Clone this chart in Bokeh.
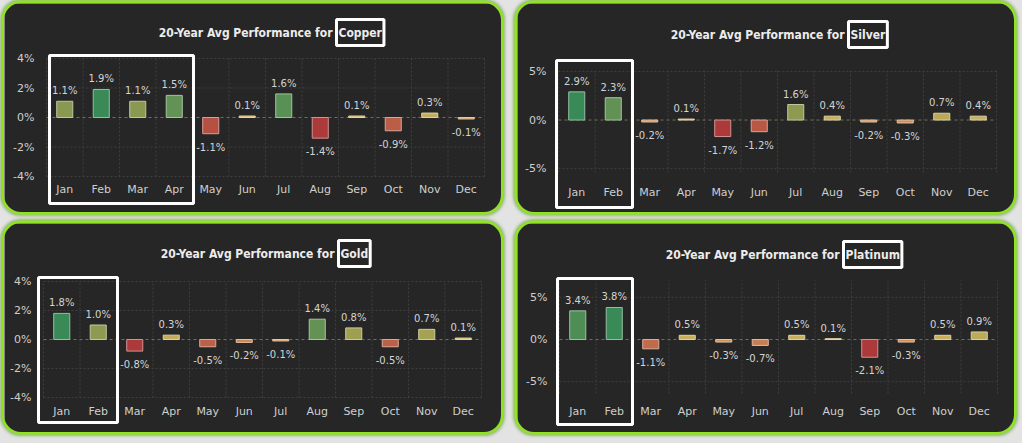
from bokeh.plotting import figure
from bokeh.layouts import column, row
from bokeh.models import (Range1d, FixedTicker, PrintfTickFormatter, Label, BoxAnnotation,
                          ColumnDataSource, GlobalInlineStyleSheet)
from bokeh.core.properties import value
from bokeh.embed import file_html
from bokeh.resources import INLINE

# ---------------- data ----------------
months = ["Jan", "Feb", "Mar", "Apr", "May", "Jun", "Jul", "Aug", "Sep", "Oct", "Nov", "Dec"]
copper = [1.1, 1.9, 1.1, 1.5, -1.1, 0.1, 1.6, -1.4, 0.1, -0.9, 0.3, -0.1]
silver = [2.9, 2.3, -0.2, 0.1, -1.7, -1.2, 1.6, 0.4, -0.2, -0.3, 0.7, 0.4]
gold = [1.8, 1.0, -0.8, 0.3, -0.5, -0.2, -0.1, 1.4, 0.8, -0.5, 0.7, 0.1]
platinum = [3.4, 3.8, -1.1, 0.5, -0.3, -0.7, 0.5, 0.1, -2.1, -0.3, 0.5, 0.9]
metals = ["Copper", "Silver", "Gold", "Platinum"]
title_prefix = "20-Year Avg Performance for"
y_ticks = {"Copper": [-4, -2, 0, 2, 4], "Silver": [-5, 0, 5], "Gold": [-4, -2, 0, 2, 4], "Platinum": [-5, 0, 5]}

# ---------------- styles ----------------
FONT = "DejaVu Sans"
TITLE_FONT = "DejaVu Sans Condensed, Open Sans"
BG = "#262626"
PAGE = "#e3e3e3"
GRID = "#3e3e3e"
W, H = 497, 209
FRAME_W = 438

# pixel layout of each panel (relative to the panel's top-left corner)
spec = {
    "Copper":   dict(ylim=(-4, 4), left=42, top=55, bottom=173, stand=0, title_px=29, word_px=329,
                     box=(45, 189, 52, 200)),
    "Silver":   dict(ylim=(-5.4, 5.1), left=41, top=67, bottom=169, stand=7, title_px=31, word_px=328,
                     box=(39, 115, 57, 204)),
    "Gold":     dict(ylim=(-4, 4), left=39, top=58, bottom=174, stand=1, title_px=30, word_px=331,
                     box=(34, 113, 54, 199)),
    "Platinum": dict(ylim=(-6.4, 7.0), left=42, top=57, bottom=170, stand=5, title_px=31, word_px=323,
                     box=(40, 115, 55, 201)),
}

POS = [(0.0, (216, 182, 98)), (0.5, (152, 156, 80)), (1.0, (58, 138, 88))]
NEG = [(0.0, (214, 160, 94)), (1.0, (172, 58, 58))]


def interp(stops, t):
    t = max(0.0, min(1.0, t))
    for (t0, c0), (t1, c1) in zip(stops[:-1], stops[1:]):
        if t <= t1:
            f = (t - t0) / (t1 - t0) if t1 > t0 else 0
            return tuple(int(round(a + (b - a) * f)) for a, b in zip(c0, c1))
    return stops[-1][1]


def hexc(c):
    return "#%02x%02x%02x" % c


def lighten(c, f=0.45):
    return tuple(int(round(a + (255 - a) * f)) for a in c)


def make_panel(name, vals):
    s = spec[name]
    ymin, ymax = s["ylim"]
    ppu = (s["bottom"] - s["top"]) / (ymax - ymin)
    ppx = FRAME_W / 12.0

    def dx(px):
        return (px - s["left"]) / ppx

    def dy(py):
        return ymax + (s["top"] - py) / ppu

    p = figure(width=W, height=H, title=None,
               x_range=Range1d(dx(0), dx(W)), y_range=Range1d(dy(H), dy(0)),
               output_backend="svg", toolbar_location=None, min_border=0,
               background_fill_color=BG, border_fill_color=BG, outline_line_color=None)
    p.styles = {"border-radius": "17px", "overflow": "hidden",
                "box-shadow": "0 0 0 2.5px #8fe320, 0 0 3px 3.5px rgba(80,150,20,0.55)"}

    n = len(months)
    xs = [i + 0.5 for i in range(n)]

    # grid (inside the plotting band only)
    gx = list(range(n + 1))
    p.segment(x0=gx, y0=[ymin] * len(gx), x1=gx, y1=[ymax] * len(gx),
              line_color=GRID, line_dash="2 2", line_width=1)
    gy = [t for t in y_ticks[name] if t != 0]
    p.segment(x0=[0] * len(gy), y0=gy, x1=[n] * len(gy), y1=gy,
              line_color=GRID, line_dash="2 2", line_width=1)
    p.segment(x0=[0], y0=[0], x1=[n], y1=[0], line_color="#707058", line_dash="3 3", line_width=1)

    vmax = max(vals)
    vmin = min(vals)
    fills, edges = [], []
    for v in vals:
        c = interp(POS, v / vmax) if v >= 0 else interp(NEG, v / vmin)
        fills.append(hexc(c))
        edges.append(hexc(lighten(c)))
    src = ColumnDataSource(dict(x=xs, v=vals, fill=fills, edge=edges))
    p.vbar(x="x", top="v", bottom=0, width=0.44, fill_color="fill", line_color="edge",
           line_width=1, source=src)

    pos = ColumnDataSource(dict(x=[x for x, v in zip(xs, vals) if v >= 0],
                                y=[v for v in vals if v >= 0],
                                t=["%.1f%%" % v for v in vals if v >= 0]))
    neg = ColumnDataSource(dict(x=[x for x, v in zip(xs, vals) if v < 0],
                                y=[v for v in vals if v < 0],
                                t=["%.1f%%" % v for v in vals if v < 0]))
    p.text(x="x", y="y", text="t", source=pos, text_align="center", text_baseline="bottom",
           y_offset=-5, text_font=value(FONT), text_font_size="10px", text_color="#d4d4d4")
    p.text(x="x", y="y", text="t", source=neg, text_align="center", text_baseline="top",
           y_offset=8, text_font=value(FONT), text_font_size="10px", text_color="#d4d4d4")

    # axes, pinned to the plotting band
    p.xaxis.fixed_location = ymin
    p.yaxis.fixed_location = 0
    p.xaxis.ticker = FixedTicker(ticks=xs)
    p.xaxis.major_label_overrides = {x: m for x, m in zip(xs, months)}
    p.yaxis.ticker = FixedTicker(ticks=y_ticks[name])
    p.yaxis.formatter = PrintfTickFormatter(format="%d%%")
    for ax in (p.xaxis, p.yaxis):
        ax.axis_line_color = None
        ax.major_tick_line_color = None
        ax.minor_tick_line_color = None
        ax.major_label_text_font = FONT
        ax.major_label_text_font_size = "11px"
        ax.major_label_text_color = "#cfcfcf"
    p.xaxis.major_label_standoff = s["stand"]
    p.yaxis.major_label_standoff = 6
    p.xgrid.visible = False
    p.ygrid.visible = False

    # title with boxed metal name
    ty = dy(s["title_px"])
    wx = dx(s["word_px"])
    p.add_layout(Label(x=wx, y=ty, text=title_prefix, text_align="right",
                       text_baseline="middle", x_offset=-1, text_font=TITLE_FONT,
                       text_font_style="bold", text_font_size="12px", text_color="#ececec"))
    p.add_layout(Label(x=wx, y=ty, text=name, text_align="left",
                       text_baseline="middle", x_offset=3, text_font=TITLE_FONT,
                       text_font_style="bold", text_font_size="12px", text_color="#ececec",
                       border_line_color="white", border_line_width=3, padding=(2, 6)))

    # highlight box around the first months
    bl, br, bt, bb = s["box"]
    p.add_layout(BoxAnnotation(left=dx(bl), right=dx(br), top=dy(bt), bottom=dy(bb),
                               fill_color=None, fill_alpha=0, line_color="white", line_alpha=1,
                               line_width=3, level="overlay"))
    return p


panels = [make_panel(n, v) for n, v in zip(metals, [copper, silver, gold, platinum])]
layout = column(row(panels[0], panels[1], spacing=16), row(panels[2], panels[3], spacing=16),
                spacing=11, margin=(3, 0, 0, 4),
                stylesheets=[GlobalInlineStyleSheet(css="html, body { background-color: %s; }" % PAGE)])

open("out.html", "w").write(file_html(layout, INLINE))
